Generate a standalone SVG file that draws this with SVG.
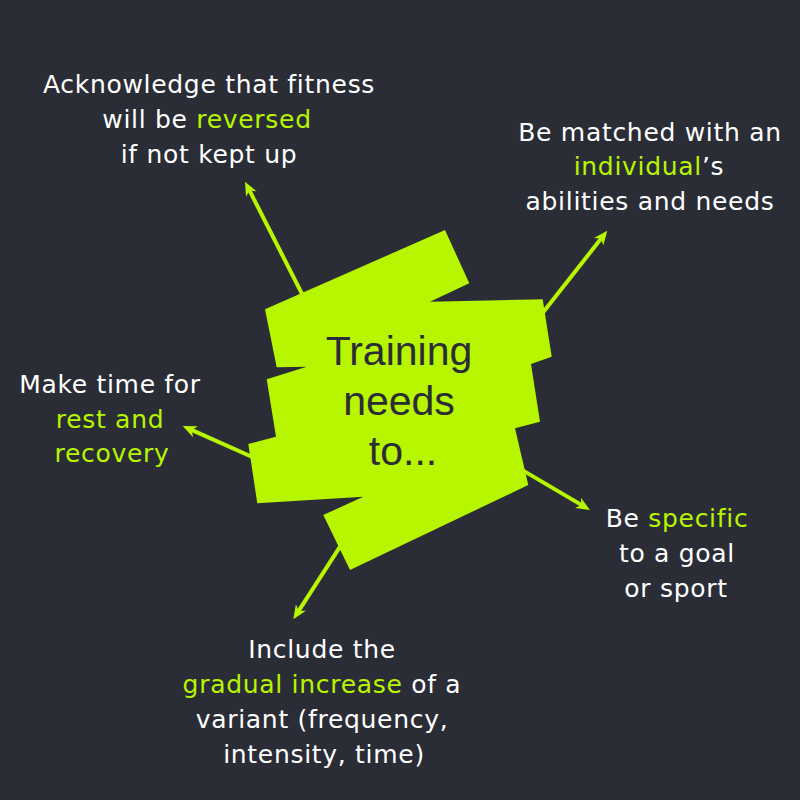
<svg xmlns="http://www.w3.org/2000/svg" width="800" height="800" viewBox="0 0 800 800">
<defs>
<style>
.lbl{font-family:"DejaVu Sans","Liberation Sans",sans-serif;font-size:25px;fill:#ffffff;text-anchor:middle;letter-spacing:0.7px}
.hl{fill:#b7f501}
.conn{stroke:#b7f501;stroke-width:4;fill:none;stroke-linecap:butt}
.ctr{font-family:"Liberation Sans",Arial,sans-serif;font-size:41px;fill:#2b2d36;text-anchor:middle}
</style>
<marker id="ah" viewBox="0 0 14 12" refX="5" refY="6" markerWidth="14" markerHeight="12" markerUnits="userSpaceOnUse" orient="auto">
<path d="M0,0 L14,6 L0,12 L4,6 z" fill="#b7f501"/>
</marker>
</defs>
<rect width="800" height="800" fill="#2b2d36"/>
<g id="connectors">
<line class="conn" x1="308.5" y1="306.7" x2="249.1" y2="189.7" marker-end="url(#ah)"/>
<line class="conn" x1="535.7" y1="321.8" x2="601.7" y2="237.8" marker-end="url(#ah)"/>
<line class="conn" x1="259" y1="459.9" x2="190.9" y2="429.7" marker-end="url(#ah)"/>
<line class="conn" x1="514.7" y1="465.6" x2="582.2" y2="505.4" marker-end="url(#ah)"/>
<line class="conn" x1="348.1" y1="534.1" x2="298.2" y2="611.7" marker-end="url(#ah)"/>
</g>
<g id="center">
<polygon fill="#b7f501" points="265,309.3 445,230 469.3,283.3 430,301.7 542.7,299.3 551.7,356.7 531,364 540,421.7 515,428.3 528.3,485 350,570 323.3,515 363.3,496.7 257.3,503.3 248.3,444 276,436.7 266.7,379.3 306.7,366.7 276.7,367.3"/>
<text class="ctr" x="399" y="365">Training</text>
<text class="ctr" x="399" y="415">needs</text>
<text class="ctr" x="403" y="465">to...</text>
</g>
<g id="node-reversed">
<text class="lbl" x="209" y="93">Acknowledge that fitness</text>
<text class="lbl" x="207" y="128">will be <tspan class="hl">reversed</tspan></text>
<text class="lbl" x="209" y="163">if not kept up</text>
</g>
<g id="node-individual">
<text class="lbl" x="650" y="141">Be matched with an</text>
<text class="lbl" x="649" y="175"><tspan class="hl">individual</tspan>’s</text>
<text class="lbl" x="650" y="210">abilities and needs</text>
</g>
<g id="node-rest">
<text class="lbl" x="110" y="393">Make time for</text>
<text class="lbl hl" x="110" y="428">rest and</text>
<text class="lbl hl" x="112" y="462">recovery</text>
</g>
<g id="node-specific">
<text class="lbl" x="677" y="527">Be <tspan class="hl">specific</tspan></text>
<text class="lbl" x="677" y="562">to a goal</text>
<text class="lbl" x="676" y="597">or sport</text>
</g>
<g id="node-gradual">
<text class="lbl" x="322" y="658">Include the</text>
<text class="lbl" x="322" y="693"><tspan class="hl">gradual increase</tspan> of a</text>
<text class="lbl" x="322" y="728">variant (frequency,</text>
<text class="lbl" x="324" y="763">intensity, time)</text>
</g>
</svg>
